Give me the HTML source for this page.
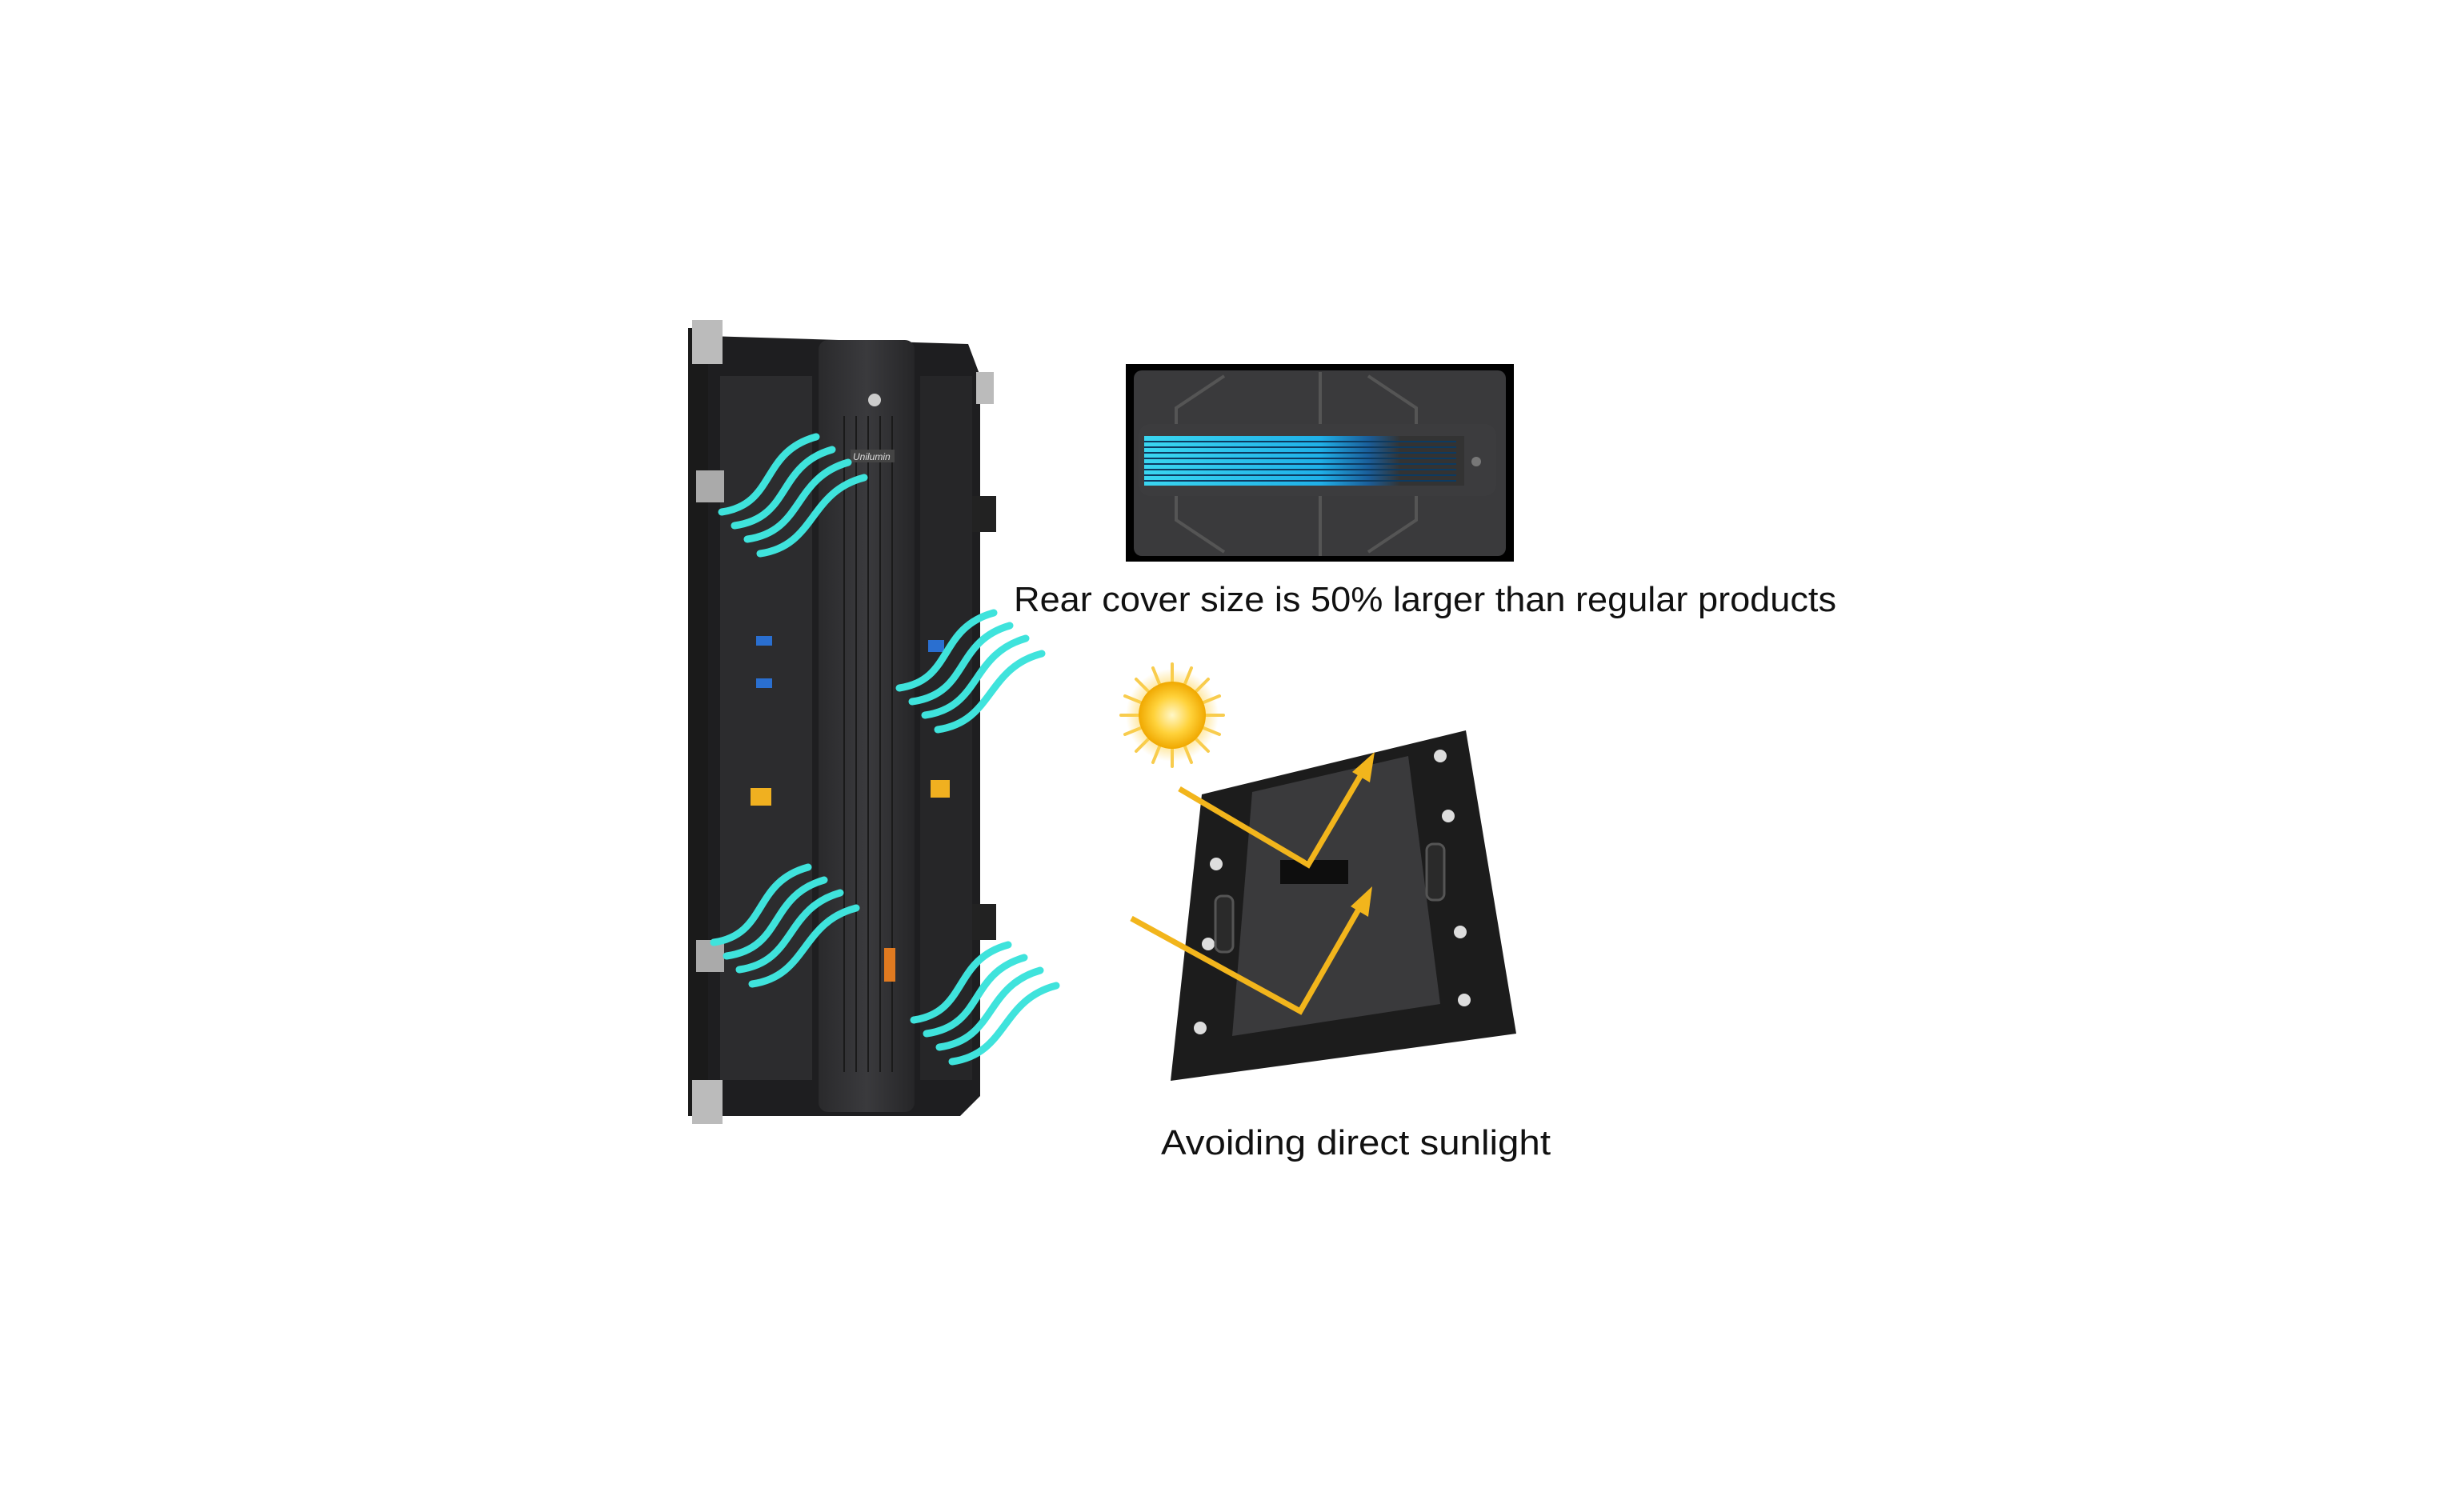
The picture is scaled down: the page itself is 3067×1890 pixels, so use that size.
<!DOCTYPE html>
<html><head><meta charset="utf-8"><style>
html,body{margin:0;padding:0;background:#fff;}
body{width:3067px;height:1890px;position:relative;overflow:hidden;font-family:"Liberation Sans",sans-serif;}
</style></head><body>
<svg width="3067" height="1890" viewBox="0 0 3067 1890" xmlns="http://www.w3.org/2000/svg" style="position:absolute;left:0;top:0">
<defs>
<linearGradient id="col" x1="0" x2="1" y1="0" y2="0"><stop offset="0" stop-color="#2a2a2c"/><stop offset="0.5" stop-color="#3a3a3d"/><stop offset="1" stop-color="#262628"/></linearGradient>
<linearGradient id="bar" x1="0" x2="1"><stop offset="0" stop-color="#3ad6f0"/><stop offset="0.55" stop-color="#1fb0e8"/><stop offset="0.7" stop-color="#1a5e9a"/><stop offset="0.8" stop-color="#333"/></linearGradient>
<radialGradient id="sun"><stop offset="0" stop-color="#fff7c8"/><stop offset="0.55" stop-color="#ffd23a"/><stop offset="1" stop-color="#f0a800"/></radialGradient>
<radialGradient id="halo"><stop offset="0.5" stop-color="#ffd040" stop-opacity="0.8"/><stop offset="1" stop-color="#ffd040" stop-opacity="0"/></radialGradient>
</defs>
<rect x="860" y="410" width="30" height="985" fill="#1a1a1a"/>
<path d="M885 420 L1210 430 L1225 470 L1225 1370 L1200 1395 L885 1395 Z" fill="#1e1e20"/>
<rect x="900" y="470" width="115" height="880" fill="#2c2c2e"/>
<rect x="1150" y="470" width="65" height="880" fill="#262628"/>
<rect x="1023" y="425" width="120" height="965" rx="12" fill="url(#col)"/>
<g stroke="#1a1a1a" stroke-width="2"><line x1="1055" y1="520" x2="1055" y2="1340"/><line x1="1070" y1="520" x2="1070" y2="1340"/><line x1="1085" y1="520" x2="1085" y2="1340"/><line x1="1100" y1="520" x2="1100" y2="1340"/><line x1="1115" y1="520" x2="1115" y2="1340"/></g>
<circle cx="1093" cy="500" r="8" fill="#ccc"/>
<rect x="1063" y="562" width="55" height="16" fill="#444"/><text x="1066" y="575" font-size="12" fill="#ddd" font-style="italic">Unilumin</text>
<rect x="1105" y="1185" width="14" height="42" fill="#e07a20"/>
<rect x="865" y="400" width="38" height="55" fill="#bbb"/><rect x="865" y="1350" width="38" height="55" fill="#bbb"/>
<rect x="870" y="588" width="35" height="40" fill="#aaa"/><rect x="870" y="1175" width="35" height="40" fill="#aaa"/>
<rect x="1220" y="465" width="22" height="40" fill="#bbb"/>
<rect x="1215" y="620" width="30" height="45" fill="#222"/><rect x="1215" y="1130" width="30" height="45" fill="#222"/>
<rect x="945" y="795" width="20" height="12" fill="#2a6fd0"/><rect x="945" y="848" width="20" height="12" fill="#2a6fd0"/>
<rect x="1160" y="800" width="20" height="15" fill="#2a6fd0"/>
<rect x="938" y="985" width="26" height="22" fill="#f0b020"/><rect x="1163" y="975" width="24" height="22" fill="#f0b020"/>
<g fill="none" stroke="#3fe3dc" stroke-width="9" stroke-linecap="round">
<g id="w1">
<path d="M902 640 C970 630 950 565 1020 546"/>
<path d="M918 657 C990 647 970 582 1040 562"/>
<path d="M934 674 C1005 664 990 598 1060 578"/>
<path d="M950 692 C1020 682 1010 615 1080 597"/>
</g>
<use href="#w1" transform="translate(222 220)"/>
<use href="#w1" transform="translate(-10 538)"/>
<use href="#w1" transform="translate(240 635)"/>
</g>
<rect x="1407" y="455" width="485" height="247" fill="#000"/>
<rect x="1417" y="463" width="465" height="232" rx="10" fill="#3a3a3c"/>
<g stroke="#555" stroke-width="4" fill="none"><path d="M1530 470 L1470 510 L1470 530"/><path d="M1530 690 L1470 650 L1470 620"/><path d="M1710 470 L1770 510 L1770 530"/><path d="M1710 690 L1770 650 L1770 620"/><line x1="1650" y1="465" x2="1650" y2="530"/><line x1="1650" y1="620" x2="1650" y2="695"/></g>
<rect x="1423" y="530" width="447" height="90" rx="14" fill="#3c3c3e"/>
<rect x="1430" y="545" width="400" height="62" fill="url(#bar)"/>
<g stroke="#0d3a60" stroke-width="2"><line x1="1430" y1="552" x2="1820" y2="552"/><line x1="1430" y1="559" x2="1820" y2="559"/><line x1="1430" y1="566" x2="1820" y2="566"/><line x1="1430" y1="573" x2="1820" y2="573"/><line x1="1430" y1="580" x2="1820" y2="580"/><line x1="1430" y1="587" x2="1820" y2="587"/><line x1="1430" y1="594" x2="1820" y2="594"/><line x1="1430" y1="601" x2="1820" y2="601"/></g>
<circle cx="1845" cy="577" r="6" fill="#777"/>
<text x="1267" y="764" font-size="44" fill="#111" textLength="1028" lengthAdjust="spacingAndGlyphs">Rear cover size is 50% larger than regular products</text>
<g stroke="#f7c430" stroke-width="4" stroke-linecap="round" opacity="0.85">
<line x1="1465" y1="830" x2="1465" y2="958"/><line x1="1401" y1="894" x2="1529" y2="894"/>
<line x1="1420" y1="849" x2="1510" y2="939"/><line x1="1510" y1="849" x2="1420" y2="939"/>
<line x1="1441" y1="835" x2="1489" y2="953"/><line x1="1489" y1="835" x2="1441" y2="953"/>
<line x1="1406" y1="870" x2="1524" y2="918"/><line x1="1524" y1="870" x2="1406" y2="918"/>
</g>
<circle cx="1465" cy="894" r="58" fill="url(#halo)"/>
<circle cx="1465" cy="894" r="42" fill="url(#sun)"/>
<polygon points="1502,993 1832,913 1895,1292 1463,1351" fill="#1c1c1c"/>
<polygon points="1565,990 1760,945 1800,1255 1540,1295" fill="#3a3a3c"/>
<g fill="#ddd"><circle cx="1520" cy="1080" r="8"/><circle cx="1510" cy="1180" r="8"/><circle cx="1500" cy="1285" r="8"/><circle cx="1800" cy="945" r="8"/><circle cx="1810" cy="1020" r="8"/><circle cx="1825" cy="1165" r="8"/><circle cx="1830" cy="1250" r="8"/></g>
<rect x="1519" y="1120" width="22" height="70" rx="8" fill="#2a2a2a" stroke="#555" stroke-width="3"/>
<rect x="1783" y="1055" width="22" height="70" rx="8" fill="#2a2a2a" stroke="#555" stroke-width="3"/>
<rect x="1600" y="1075" width="85" height="30" fill="#0e0e0e"/>
<g fill="none" stroke="#f2b51c" stroke-width="7" stroke-linejoin="miter">
<polyline points="1474,986 1635,1081 1706,960"/>
<polyline points="1414,1148 1625,1264 1703,1128"/>
</g>
<g fill="#f2b51c"><polygon points="1718,940 1712,978 1690,965"/><polygon points="1715,1108 1710,1146 1688,1133"/></g>
<text x="1451" y="1443" font-size="44" fill="#111" textLength="487" lengthAdjust="spacingAndGlyphs">Avoiding direct sunlight</text>
</svg>
</body></html>
